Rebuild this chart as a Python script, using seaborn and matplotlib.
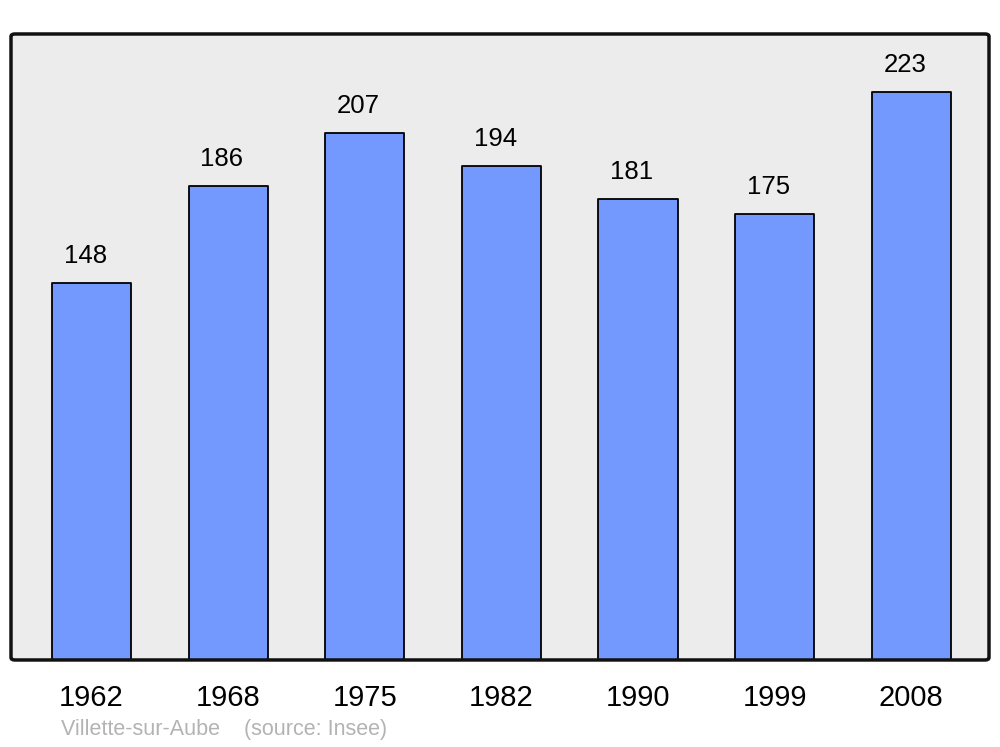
import matplotlib
matplotlib.use("Agg")
import matplotlib.pyplot as plt
import seaborn as sns
import pandas as pd
from matplotlib.patches import FancyBboxPatch

# --- data ---
years = ["1962", "1968", "1975", "1982", "1990", "1999", "2008"]
population = [148, 186, 207, 194, 181, 175, 223]
commune = "Villette-sur-Aube"
source = "(source: Insee)"

df = pd.DataFrame({"year": years, "population": population})

sns.set_style("white")
plt.rcParams["font.family"] = ["Liberation Sans", "DejaVu Sans"]

fig = plt.figure(figsize=(10, 7.47), dpi=100)
ax = fig.add_axes([0.011, 0.1165, 0.978, 0.838])
ax.set_facecolor("#ececec")

sns.barplot(data=df, x="year", y="population", color="#7399ff", saturation=1,
            width=0.58, edgecolor="black", linewidth=1.3, ax=ax)
for p in ax.patches:
    p.set_joinstyle("round")

# value labels sit a little left of the bar centre, as in the original
for i, v in enumerate(population):
    ax.annotate(str(v), (i, v), xytext=(-4.5, 11), textcoords="offset points",
                ha="center", va="bottom", fontsize=18.5, color="black")

ax.set_xlim(-0.59, 6.57)
ax.set_ylim(0, 245.8)
ax.set_yticks([])
ax.set_xlabel("")
ax.set_ylabel("")
ax.tick_params(axis="x", length=0, pad=17, labelsize=21, colors="black")
for lbl in ax.get_xticklabels():
    lbl.set_x(lbl.get_position()[0])

for s in ax.spines.values():
    s.set_visible(False)
frame = FancyBboxPatch((0, 0), 1, 1, boxstyle="round,pad=0,rounding_size=0.004",
                       transform=ax.transAxes, facecolor="none", edgecolor="#111111",
                       linewidth=2.5, clip_on=False, zorder=5)
ax.add_patch(frame)

fig.text(0.061, 0.0228, commune + "    " + source, color="#b3b3b3",
         fontsize=15.5, ha="left", va="center")

fig.savefig("out.png", dpi=100, facecolor="white")
